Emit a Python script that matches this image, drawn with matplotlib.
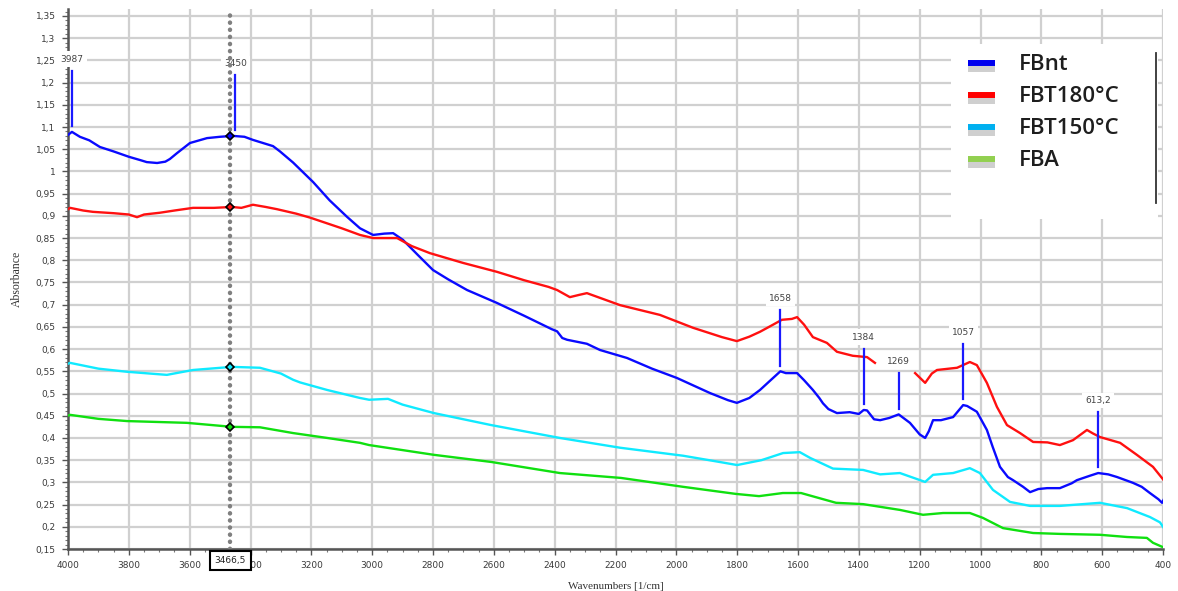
import numpy as np
import matplotlib
matplotlib.use("Agg")
import matplotlib.pyplot as plt
import matplotlib.patheffects as pe
from matplotlib.ticker import MultipleLocator, FuncFormatter
from matplotlib.patches import Rectangle
from matplotlib.lines import Line2D

# FTIR spectra, wavenumber [1/cm] -> absorbance
wn_fbnt = [4000, 3993, 3987, 3961, 3930, 3895, 3850, 3800, 3760, 3741, 3707, 3680, 3665, 3642,
           3599, 3543, 3500, 3458, 3420, 3392, 3326, 3303, 3260, 3194, 3140, 3083, 3040, 2997,
           2960, 2931, 2899, 2850, 2800, 2750, 2688, 2590, 2500, 2410, 2392, 2375, 2359, 2294,
           2251, 2162, 2080, 1998, 1889, 1830, 1801, 1760, 1725, 1690, 1658, 1640, 1603, 1580,
           1551, 1530, 1518, 1500, 1472, 1430, 1400, 1384, 1373, 1350, 1330, 1300, 1269, 1232,
           1200, 1182, 1170, 1156, 1130, 1090, 1057, 1044, 1012, 979, 960, 936, 910, 893, 860,
           837, 810, 781, 739, 700, 683, 640, 613, 580, 551, 499, 470, 443, 415, 403, 395]
ab_fbnt = [1.082, 1.086, 1.089, 1.078, 1.070, 1.055, 1.045, 1.033, 1.025, 1.021, 1.019, 1.022,
           1.028, 1.041, 1.064, 1.075, 1.078, 1.080, 1.078, 1.071, 1.057, 1.045, 1.020, 0.976,
           0.935, 0.898, 0.872, 0.857, 0.860, 0.861, 0.846, 0.812, 0.778, 0.757, 0.733, 0.704,
           0.675, 0.645, 0.640, 0.625, 0.621, 0.612, 0.598, 0.580, 0.556, 0.535, 0.501, 0.485,
           0.479, 0.490, 0.508, 0.530, 0.550, 0.546, 0.546, 0.530, 0.508, 0.490, 0.478, 0.465,
           0.456, 0.458, 0.454, 0.463, 0.462, 0.442, 0.440, 0.445, 0.453, 0.434, 0.408, 0.400,
           0.415, 0.440, 0.440, 0.447, 0.474, 0.472, 0.459, 0.418, 0.380, 0.335, 0.312, 0.305,
           0.290, 0.278, 0.285, 0.287, 0.287, 0.298, 0.305, 0.315, 0.321, 0.318, 0.312, 0.299,
           0.290, 0.276, 0.262, 0.254, 0.265]

wn_fbt180 = [4000, 3993, 3950, 3918, 3850, 3800, 3773, 3750, 3698, 3650, 3589, 3520, 3461, 3430,
             3392, 3350, 3313, 3250, 3204, 3100, 3040, 2997, 2918, 2870, 2810, 2701, 2590, 2500,
             2420, 2392, 2350, 2320, 2294, 2185, 2054, 1945, 1850, 1801, 1760, 1725, 1690, 1653,
             1620, 1603, 1580, 1551, 1505, 1472, 1420, 1373, 1347, 1300, 1215, 1182, 1160, 1143,
             1077, 1035, 1012, 979, 946, 913, 870, 827, 780, 739, 696, 650, 630, 607, 541, 486,
             433, 393]
ab_fbt180 = [0.915, 0.918, 0.912, 0.909, 0.906, 0.903, 0.897, 0.903, 0.907, 0.912, 0.918, 0.918,
             0.920, 0.918, 0.925, 0.920, 0.915, 0.905, 0.896, 0.872, 0.857, 0.850, 0.850, 0.832,
             0.816, 0.794, 0.774, 0.755, 0.740, 0.733, 0.717, 0.722, 0.726, 0.699, 0.677, 0.648,
             0.627, 0.618, 0.628, 0.639, 0.652, 0.666, 0.668, 0.672, 0.655, 0.627, 0.614, 0.594,
             0.585, 0.582, 0.569, np.nan, 0.546, 0.524, 0.545, 0.553, 0.558, 0.571, 0.564, 0.524,
             0.470, 0.429, 0.411, 0.391, 0.390, 0.384, 0.395, 0.418, 0.410, 0.402, 0.389, 0.362,
             0.335, 0.301]

wn_fbt150 = [4000, 3993, 3900, 3806, 3675, 3589, 3461, 3369, 3300, 3260, 3237, 3148, 3040, 3010,
             2948, 2900, 2797, 2609, 2500, 2383, 2185, 1978, 1850, 1800, 1720, 1649, 1594, 1560,
             1485, 1386, 1330, 1265, 1182, 1156, 1090, 1035, 1002, 959, 903, 837, 739, 607, 518,
             443, 410, 393]
ab_fbt150 = [0.567, 0.569, 0.556, 0.549, 0.542, 0.553, 0.560, 0.558, 0.545, 0.531, 0.525, 0.508,
             0.490, 0.486, 0.488, 0.475, 0.456, 0.429, 0.415, 0.400, 0.378, 0.360, 0.345, 0.339,
             0.350, 0.366, 0.368, 0.355, 0.331, 0.328, 0.318, 0.321, 0.301, 0.317, 0.321, 0.332,
             0.321, 0.283, 0.256, 0.247, 0.247, 0.254, 0.242, 0.222, 0.210, 0.193]

wn_fba = [4000, 3993, 3900, 3806, 3609, 3461, 3369, 3260, 3148, 3040, 3010, 2797, 2609, 2383,
          2182, 1978, 1804, 1728, 1650, 1590, 1475, 1386, 1265, 1189, 1123, 1035, 992, 926, 827,
          739, 607, 518, 453, 433, 393]
ab_fba = [0.450, 0.452, 0.443, 0.438, 0.434, 0.425, 0.424, 0.411, 0.400, 0.389, 0.384, 0.362,
          0.346, 0.321, 0.310, 0.290, 0.274, 0.269, 0.276, 0.276, 0.254, 0.251, 0.238, 0.227,
          0.231, 0.231, 0.220, 0.197, 0.186, 0.184, 0.182, 0.177, 0.175, 0.164, 0.152]

names = ["FBnt", "FBT180°C", "FBT150°C", "FBA"]
line_colors = ["#0a0aff", "#ff1010", "#10eaff", "#10e010"]
legend_colors = ["#0000ee", "#ff0000", "#00b0f0", "#92d050"]

# peak picks on FBnt
peak_wn = [3987, 3450, 1658, 1384, 1269, 1057, 613.2]
peak_text = ["3987", "3450", "1658", "1384", "1269", "1057", "613,2"]
peak_len = [0.125, 0.125, 0.125, 0.125, 0.08, 0.125, 0.125]

cursor_wn = 3466.5

W, H = 1178, 591
fig = plt.figure(figsize=(W / 100, H / 100), dpi=100)
ax = fig.add_axes([68 / W, (H - 549) / H, 1095 / W, 540 / H])

series = [(wn_fbnt, ab_fbnt), (wn_fbt180, ab_fbt180), (wn_fbt150, ab_fbt150), (wn_fba, ab_fba)]
for (x, y), c in zip(series, line_colors):
    ax.plot(x, y, color=c, lw=1.7, zorder=3, solid_joinstyle="round")

ax.set_xlim(4000, 400)
ax.set_ylim(0.15, 0.15 + 540 / 444.2)

ax.xaxis.set_major_locator(MultipleLocator(200))
ax.xaxis.set_minor_locator(MultipleLocator(50))
ax.yaxis.set_major_locator(MultipleLocator(0.05))
ax.yaxis.set_minor_locator(MultipleLocator(0.01))
ax.xaxis.set_major_formatter(FuncFormatter(lambda v, p: "%d" % round(v)))
ax.yaxis.set_major_formatter(
    FuncFormatter(lambda v, p: ("%.2f" % v).rstrip("0").rstrip(".").replace(".", ",")))

ax.grid(True, which="major", color="#d0d0d0", lw=1.6, zorder=0)
ax.set_axisbelow(True)
for s in ["top", "right"]:
    ax.spines[s].set_visible(False)
for s in ["left", "bottom"]:
    ax.spines[s].set_color("#555555")
    ax.spines[s].set_linewidth(1.8)
ax.tick_params(which="major", direction="out", length=4, width=1, color="#555555",
               labelsize=6.5, labelcolor="#3a3a3a", pad=5)
ax.tick_params(which="minor", direction="out", length=2.5, width=0.8, color="#777777")

ax.set_ylabel("Absorbance", family="Liberation Serif", fontsize=8.5, color="#333333",
              labelpad=9)
ax.set_xlabel("Wavenumbers [1/cm]", family="Liberation Serif", fontsize=8, color="#333333",
              labelpad=8)

# peak markers with labels
blue_wn = np.array(wn_fbnt[::-1], dtype=float)
blue_ab = np.array(ab_fbnt[::-1], dtype=float)
for w, t, L in zip(peak_wn, peak_text, peak_len):
    y0 = np.interp(w, blue_wn, blue_ab) + 0.013
    ax.plot([w, w], [y0, y0 + L], color="#1a1aff", lw=1.6, zorder=4)
    ax.text(w, y0 + L + 0.026, t, ha="center", va="center", fontsize=6.5, color="#444444",
            zorder=4, bbox=dict(boxstyle="square,pad=0.35", fc="white", ec="none"))

# cursor line with the values it crosses
ax.axvline(cursor_wn, color="#808080", lw=3.2, dashes=(0.05, 1.55), dash_capstyle="round",
           zorder=6)
for (x, y), c in zip(series, line_colors):
    xs = np.array(x[::-1], dtype=float)
    ys = np.array(y[::-1], dtype=float)
    ok = ~np.isnan(ys)
    ax.plot(cursor_wn, np.interp(cursor_wn, xs[ok], ys[ok]), marker="D", ms=4.5, mfc=c,
            mec="black", mew=1.2, zorder=7)
ax.text(cursor_wn, -0.022, "3466,5", transform=ax.get_xaxis_transform(), ha="center",
        va="center", fontsize=6.5, color="#222222", zorder=10, clip_on=False,
        bbox=dict(boxstyle="square,pad=0.55", fc="white", ec="black", lw=1.5))


# legend block, placed in pixel coordinates
def fx(px):
    return px / W


def fy(py):
    return (H - py) / H


fig.add_artist(Rectangle((fx(951), fy(219)), fx(1158) - fx(951), fy(44) - fy(219),
                         transform=fig.transFigure, fc="white", ec="none", zorder=5))
fig.add_artist(Line2D([fx(1156), fx(1156)], [fy(53), fy(203)], transform=fig.transFigure,
                      color="#333333", lw=1.3, zorder=6))
for i, (n, c) in enumerate(zip(names, legend_colors)):
    yy = 63 + i * 32
    fig.add_artist(Line2D([fx(968), fx(995)], [fy(yy), fy(yy)], transform=fig.transFigure,
                          color=c, lw=4.3, solid_capstyle="butt", zorder=6,
                          path_effects=[pe.SimpleLineShadow(offset=(0, -4), shadow_color="#888888",
                                                            alpha=0.4),
                                        pe.Normal()]))
    fig.text(fx(1019), fy(yy + 1), n, family="Open Sans", weight="semibold", fontsize=16,
             color="#1e1e1e", va="center", ha="left", zorder=7)

fig.savefig("out.png", dpi=100, facecolor="white")
